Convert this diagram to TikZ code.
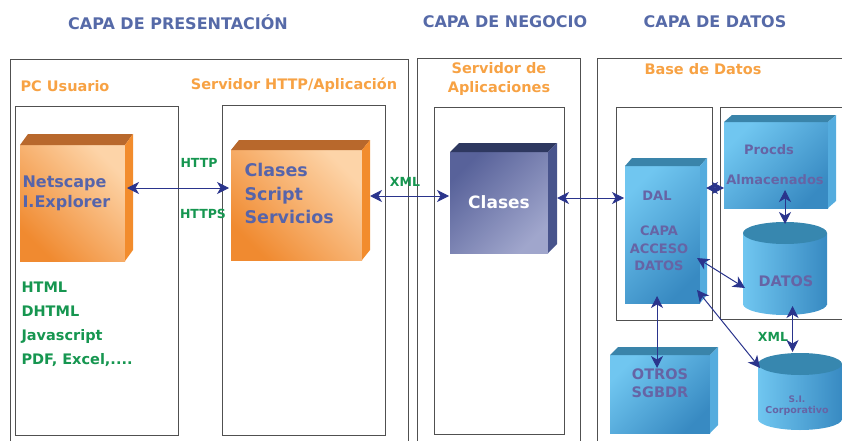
\documentclass[tikz,border=0pt]{standalone}
\usepackage{fontspec}
\setmainfont{DejaVu Sans}
\usepackage{tikz}
\usetikzlibrary{arrows.meta, positioning, calc}
\definecolor{capablue}{RGB}{86,106,168}
\definecolor{tagorange}{RGB}{247,162,68}
\definecolor{protgreen}{RGB}{22,150,80}
\definecolor{linknavy}{RGB}{42,52,140}
\definecolor{boxtext}{RGB}{86,100,170}
\definecolor{dbtext}{RGB}{102,100,165}
\definecolor{framegray}{RGB}{80,80,80}
\definecolor{orgdark}{RGB}{240,138,48}
\definecolor{orglight}{RGB}{253,212,168}
\definecolor{orgtop}{RGB}{184,104,44}
\definecolor{orgside}{RGB}{242,140,45}
\definecolor{navfront}{RGB}{88,98,154}
\definecolor{navlight}{RGB}{160,166,204}
\definecolor{navtop}{RGB}{46,56,96}
\definecolor{navside}{RGB}{72,84,140}
\definecolor{skylight}{RGB}{112,198,240}
\definecolor{skydark}{RGB}{56,138,194}
\definecolor{skytop}{RGB}{58,132,170}
\definecolor{skyside}{RGB}{84,172,222}
\definecolor{cyltop}{RGB}{55,135,175}

% top and right faces of a box whose front is node #1
\newcommand{\cubefaces}[5]{%
  \fill[#4] (#1.north west) -- ++(#2,#3) -- ([shift={(#2,#3)}]#1.north east) -- (#1.north east) -- cycle;
  \fill[#5] (#1.north east) -- ++(#2,#3) -- ([shift={(#2,#3)}]#1.south east) -- (#1.south east) -- cycle;}
% cylinder drawn round the body node #1, half width #2
\newcommand{\cylfaces}[2]{%
  \shade[left color=skylight, right color=skydark] (#1.south) ellipse [x radius=#2pt, y radius=11pt];
  \shade[left color=skylight, right color=skydark] (#1.north west) rectangle (#1.south east);
  \fill[cyltop] (#1.north) ellipse [x radius=#2pt, y radius=11pt];}

\begin{document}
\begin{tikzpicture}[x=1pt, y=-1pt,
    hdr/.style={font=\fontsize{16}{19}\selectfont\bfseries, text=capablue},
    tag/.style={font=\fontsize{14.5}{18}\selectfont\bfseries, text=tagorange, align=center},
    proto/.style={font=\fontsize{12.5}{15}\selectfont\bfseries, text=protgreen},
    dbtxt/.style={font=\fontsize{13}{17.5}\selectfont\bfseries, text=dbtext, align=center},
    frame/.style={draw=framegray, line width=1pt},
    face/.style={inner sep=0pt, outer sep=0pt},
    orgbox/.style={face, top color=orglight, bottom color=orgdark, shading angle=-45},
    navbox/.style={face, top color=navfront, bottom color=navlight, shading angle=45},
    skybox/.style={face, top color=skylight, bottom color=skydark, shading angle=45},
    link/.style={{Stealth[length=12pt,width=12pt,inset=3.5pt]}-{Stealth[length=12pt,width=12pt,inset=3.5pt]},
                 linknavy, line width=1pt}
  ]
    \useasboundingbox (0,0) rectangle (842,441);
    \clip (0,0) rectangle (842,441);

    % layer frames
    \draw[frame] (10,60) rectangle (408,450);
    \draw[frame] (417,59) rectangle (580,450);
    \draw[frame] (597,59) rectangle (850,450);
    \draw[frame] (15,107) rectangle (178,435);
    \draw[frame] (222,106) rectangle (385,435);
    \draw[frame] (434,108) rectangle (564,434);
    \draw[frame] (616,108) rectangle (712,320);
    \draw[frame] (720,108) rectangle (850,319);

    \node[hdr] (capapres) at (178,22) {CAPA DE PRESENTACIÓN};
    \node[hdr] (capaneg)  at (505,22) {CAPA DE NEGOCIO};
    \node[hdr] (capadat)  at (715,22) {CAPA DE DATOS};

    \node[tag, anchor=west] (pctag) at (17,86) {PC Usuario};
    \node[tag] (httptag) at (294,85) {Servidor HTTP/Aplicación};
    \node[tag] (apltag)  at (499,79) {Servidor de\\Aplicaciones};
    \node[tag] (bdtag)   at (703,69) {Base de Datos};

    % boxes
    \node[orgbox, minimum width=105pt, minimum height=116pt] (netscape) at (72.5,203) {};
    \cubefaces{netscape}{8}{-11}{orgtop}{orgside}
    \node[orgbox, minimum width=131pt, minimum height=110pt] (clscript) at (296.5,205) {};
    \cubefaces{clscript}{8}{-10}{orgtop}{orgside}
    \node[navbox, minimum width=98pt, minimum height=101pt, text=white,
          font=\fontsize{17}{20}\selectfont\bfseries] (clases) at (499,202.5) {Clases};
    \cubefaces{clases}{9}{-9}{navtop}{navside}
    \node[skybox, minimum width=75pt, minimum height=137pt] (dal) at (662.5,234.5) {};
    \cubefaces{dal}{7}{-8}{skytop}{skyside}
    \node[skybox, minimum width=104pt, minimum height=86pt] (procds) at (776,165) {};
    \cubefaces{procds}{8}{-7}{skytop}{skyside}
    \node[skybox, minimum width=100pt, minimum height=78pt] (otros) at (660,394) {};
    \cubefaces{otros}{8}{-8}{skytop}{skyside}
    \node[face, minimum width=84pt, minimum height=71pt] (datos) at (785,268.5) {};
    \cylfaces{datos}{42}
    \node[face, minimum width=84pt, minimum height=55pt] (si) at (800,391.5) {};
    \cylfaces{si}{42}

    % texts on the boxes
    \node[anchor=west, align=left, text=boxtext, font=\fontsize{16}{20}\selectfont\bfseries]
      (netscapetxt) at (19,193) {Netscape\\I.Explorer};
    \node[anchor=west, align=left, text=boxtext, font=\fontsize{17.5}{23.5}\selectfont\bfseries]
      (clscripttxt) at (241,193.5) {Clases\\Script\\Servicios};
    \node[anchor=west, align=left, text=protgreen, font=\fontsize{14.5}{24}\selectfont\bfseries]
      (formatos) at (18,324) {HTML\\DHTML\\Javascript\\PDF, Excel,....};
    \node[dbtxt] (daltxt) at (657,196) {DAL};
    \node[dbtxt] (accesotxt) at (659,248.5) {CAPA\\ACCESO\\DATOS};
    \node[dbtxt] (procdstxt) at (769,150) {Procds};
    \node[dbtxt] (almactxt) at (775,180) {Almacenados};
    \node[dbtxt, font=\fontsize{14.5}{18}\selectfont\bfseries] (datostxt) at (786,281) {DATOS};
    \node[dbtxt, font=\fontsize{14.5}{18}\selectfont\bfseries] (otrostxt) at (660,383) {OTROS\\SGBDR};
    \node[dbtxt, font=\fontsize{9}{11}\selectfont\bfseries] (sitxt) at (797,399) {S.I.};
    \node[dbtxt, font=\fontsize{9.5}{11}\selectfont\bfseries] (corptxt) at (797,411) {Corporativo};

    \node[proto] (httplbl)  at (199,163) {HTTP};
    \node[proto] (httpslbl) at (203,214) {HTTPS};
    \node[proto] (xmllbl)   at (405,182) {XML};
    \node[proto] (xmldblbl) at (773,337) {XML};

    % links
    \draw[link] ([xshift=2pt,yshift=15pt]netscape.east) -- ([xshift=-2pt,yshift=17pt]clscript.west);
    \draw[link] ([xshift=8pt,yshift=9pt]clscript.east) -- ([xshift=-1pt,yshift=6.5pt]clases.west);
    \draw[link] ([xshift=9pt,yshift=4.5pt]clases.east) -- ([xshift=-1pt,yshift=36.5pt]dal.west);
    \draw[link] ([xshift=6pt,yshift=46.5pt]dal.east) -- ([yshift=-23pt]procds.west);
    \draw[link] ([xshift=9pt,yshift=18pt]procds.south) -- ([yshift=9pt]datos.north);
    \draw[link] ([xshift=-3pt,yshift=-23.5pt]dal.east) -- ([xshift=2pt,yshift=-19.5pt]datos.west);
    \draw[link] ([xshift=-3pt,yshift=-55.5pt]dal.east) -- ([xshift=2pt,yshift=23.5pt]si.west);
    \draw[link] ([xshift=-5.5pt,yshift=7pt]dal.south) -- ([xshift=-3pt,yshift=-13pt]otros.north);
    \draw[link] ([xshift=7.5pt,yshift=-2pt]datos.south) -- ([xshift=-7.5pt,yshift=12pt]si.north);
  \end{tikzpicture}
\end{document}
